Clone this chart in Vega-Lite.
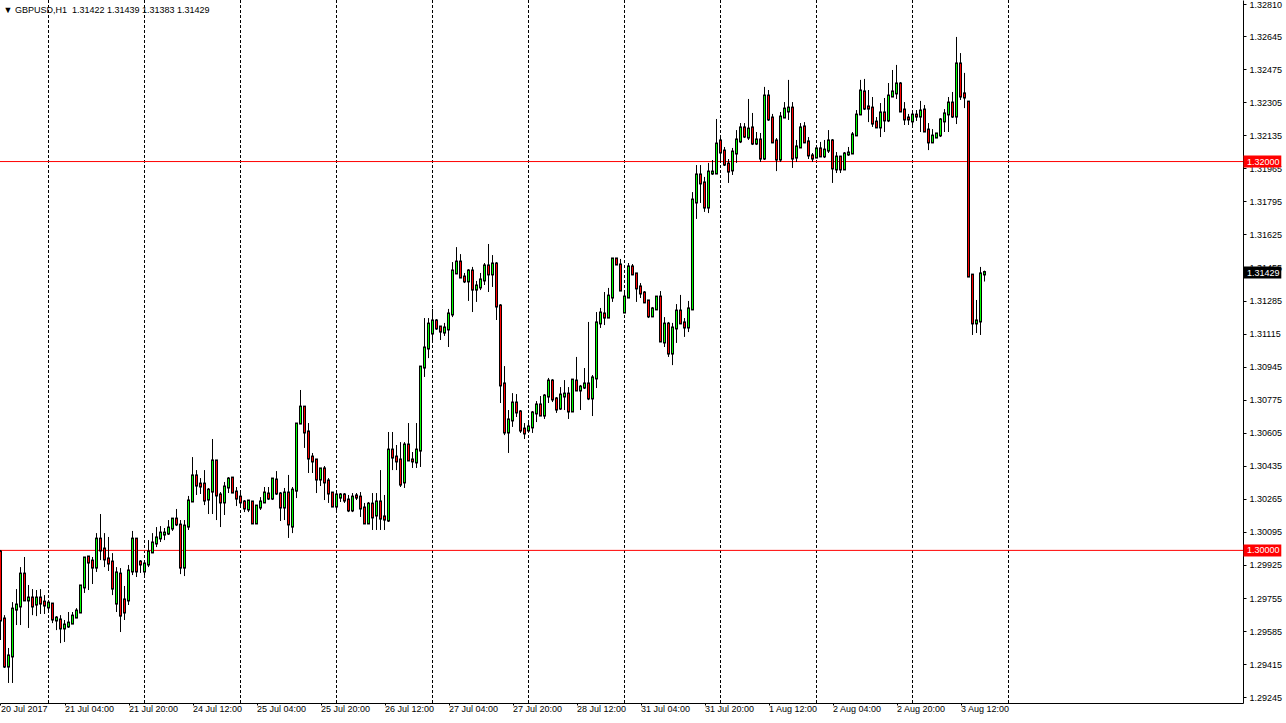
{
  "$schema": "https://vega.github.io/schema/vega-lite/v6.json",
  "width": 1243,
  "height": 703,
  "padding": {"left": 0, "top": 0, "right": 43, "bottom": 20},
  "autosize": {"type": "none"},
  "background": "white",
  "config": {"view": {"stroke": null}, "font": "Liberation Sans",
    "axis": {"grid": false, "labelFontSize": 9, "labelFont": "Liberation Sans", "labelColor": "black", "labelFlush": false, "labelOverlap": false, "tickColor": "black", "domainColor": "black", "title": null}},
  "title": {"text": "▼ GBPUSD,H1 \u00a01.31422 1.31439 1.31383 1.31429", "anchor": "start", "offset": -15, "fontSize": 9, "fontWeight": "normal", "color": "black", "font": "Liberation Sans", "dx": 4},
  "layer": [
    {
      "data": {"values": [{"i": 12}, {"i": 36}, {"i": 60}, {"i": 84}, {"i": 108}, {"i": 132}, {"i": 156}, {"i": 180}, {"i": 204}, {"i": 228}, {"i": 252}]},
      "mark": {"type": "rule", "color": "black", "strokeWidth": 1, "strokeDash": [3, 2]},
      "encoding": {
        "x": {"field": "i", "type": "quantitative", "scale": {"domain": [-0.125, 310.625], "nice": false, "zero": false, "padding": 0},
          "axis": {"values": [0, 16, 32, 48, 64, 80, 96, 112, 128, 144, 160, 176, 192, 208, 224, 240], "tickCount": 100,
            "labelExpr": "['20 Jul 2017','21 Jul 04:00','21 Jul 20:00','24 Jul 12:00','25 Jul 04:00','25 Jul 20:00','26 Jul 12:00','27 Jul 04:00','27 Jul 20:00','28 Jul 12:00','31 Jul 04:00','31 Jul 20:00','1 Aug 12:00','2 Aug 04:00','2 Aug 20:00','3 Aug 12:00'][round(datum.value/16)]",
            "title": null, "labelAlign": "left", "labelPadding": -1, "tickSize": 2, "labelBound": false, "labelOverlap": false, "labelFlush": false}}
      }
    },
    {
      "data": {"values": [{"p": 1.32}, {"p": 1.3}]},
      "mark": {"type": "rule", "color": "#ff0000", "strokeWidth": 1},
      "encoding": {
        "y": {"field": "p", "type": "quantitative", "scale": {"domain": [1.29215, 1.32831], "nice": false, "zero": false, "padding": 0},
          "axis": {"orient": "right", "tickCount": 100, "values": [1.3281, 1.32645, 1.32475, 1.32305, 1.32135, 1.31965, 1.31795, 1.31625, 1.31455, 1.31285, 1.31115, 1.30945, 1.30775, 1.30605, 1.30435, 1.30265, 1.30095, 1.29925, 1.29755, 1.29585, 1.29415, 1.29245],
            "format": ".5f", "title": null, "labelPadding": 3, "tickSize": 3, "labelOverlap": false, "labelFlush": false, "labelBound": false}}
      }
    },
    {
      "data": {"values": [
{"i":0,"o":1.29992,"h":1.30002,"l":1.29539,"c":1.29642},
{"i":1,"o":1.29647,"h":1.29667,"l":1.29395,"c":1.29405},
{"i":2,"o":1.29405,"h":1.29498,"l":1.29318,"c":1.29457},
{"i":3,"o":1.29457,"h":1.29734,"l":1.29318,"c":1.29698},
{"i":4,"o":1.29698,"h":1.29801,"l":1.29616,"c":1.29719},
{"i":5,"o":1.29714,"h":1.29914,"l":1.29616,"c":1.29878},
{"i":6,"o":1.29878,"h":1.29966,"l":1.29745,"c":1.29745},
{"i":7,"o":1.29745,"h":1.29822,"l":1.29601,"c":1.29755},
{"i":8,"o":1.29755,"h":1.29801,"l":1.29667,"c":1.29714},
{"i":9,"o":1.29724,"h":1.29796,"l":1.29662,"c":1.29755},
{"i":10,"o":1.29755,"h":1.29801,"l":1.29673,"c":1.29729},
{"i":11,"o":1.29734,"h":1.2977,"l":1.29673,"c":1.29719},
{"i":12,"o":1.29709,"h":1.29745,"l":1.29683,"c":1.29729},
{"i":13,"o":1.29724,"h":1.29724,"l":1.29626,"c":1.29647},
{"i":14,"o":1.29642,"h":1.29662,"l":1.2959,"c":1.29652},
{"i":15,"o":1.29642,"h":1.29667,"l":1.29523,"c":1.29601},
{"i":16,"o":1.29601,"h":1.29642,"l":1.29529,"c":1.29616},
{"i":17,"o":1.29611,"h":1.29683,"l":1.29601,"c":1.29626},
{"i":18,"o":1.29626,"h":1.29683,"l":1.29626,"c":1.29662},
{"i":19,"o":1.29657,"h":1.29703,"l":1.29652,"c":1.29688},
{"i":20,"o":1.29683,"h":1.29817,"l":1.29683,"c":1.29817},
{"i":21,"o":1.29812,"h":1.29961,"l":1.29781,"c":1.29961},
{"i":22,"o":1.29966,"h":1.29966,"l":1.29796,"c":1.2994},
{"i":23,"o":1.29945,"h":1.29966,"l":1.29827,"c":1.29914},
{"i":24,"o":1.29914,"h":1.30089,"l":1.29889,"c":1.30058},
{"i":25,"o":1.30058,"h":1.30187,"l":1.2995,"c":1.30002},
{"i":26,"o":1.30007,"h":1.30089,"l":1.29914,"c":1.29956},
{"i":27,"o":1.29956,"h":1.30069,"l":1.29894,"c":1.29935},
{"i":28,"o":1.2994,"h":1.29986,"l":1.2977,"c":1.29806},
{"i":29,"o":1.29729,"h":1.29914,"l":1.29683,"c":1.29884},
{"i":30,"o":1.29878,"h":1.29909,"l":1.2958,"c":1.29667},
{"i":31,"o":1.29745,"h":1.29817,"l":1.29642,"c":1.29683},
{"i":32,"o":1.29745,"h":1.29925,"l":1.29719,"c":1.29894},
{"i":33,"o":1.29894,"h":1.301,"l":1.29873,"c":1.30058},
{"i":34,"o":1.30058,"h":1.30058,"l":1.29863,"c":1.29894},
{"i":35,"o":1.2994,"h":1.2995,"l":1.29884,"c":1.2993},
{"i":36,"o":1.29894,"h":1.2995,"l":1.29873,"c":1.2993},
{"i":37,"o":1.2993,"h":1.30053,"l":1.29914,"c":1.29992},
{"i":38,"o":1.29992,"h":1.30089,"l":1.29986,"c":1.30038},
{"i":39,"o":1.30038,"h":1.3012,"l":1.30017,"c":1.30064},
{"i":40,"o":1.30064,"h":1.30125,"l":1.30043,"c":1.30089},
{"i":41,"o":1.30084,"h":1.30115,"l":1.30053,"c":1.30089},
{"i":42,"o":1.30089,"h":1.30156,"l":1.30079,"c":1.30115},
{"i":43,"o":1.30115,"h":1.30166,"l":1.301,"c":1.30161},
{"i":44,"o":1.30161,"h":1.30213,"l":1.30125,"c":1.30136},
{"i":45,"o":1.3013,"h":1.30156,"l":1.29878,"c":1.29914},
{"i":46,"o":1.29914,"h":1.30156,"l":1.29868,"c":1.30125},
{"i":47,"o":1.30125,"h":1.3028,"l":1.30105,"c":1.30254},
{"i":48,"o":1.30254,"h":1.3048,"l":1.30249,"c":1.30383},
{"i":49,"o":1.30383,"h":1.30413,"l":1.30285,"c":1.30336},
{"i":50,"o":1.30341,"h":1.30372,"l":1.3029,"c":1.30331},
{"i":51,"o":1.30341,"h":1.30413,"l":1.30233,"c":1.30259},
{"i":52,"o":1.30264,"h":1.30321,"l":1.30187,"c":1.3031},
{"i":53,"o":1.30305,"h":1.30573,"l":1.30187,"c":1.3046},
{"i":54,"o":1.3046,"h":1.30465,"l":1.30156,"c":1.30285},
{"i":55,"o":1.30285,"h":1.303,"l":1.3012,"c":1.30249},
{"i":56,"o":1.30249,"h":1.30352,"l":1.30182,"c":1.30326},
{"i":57,"o":1.30326,"h":1.30377,"l":1.30295,"c":1.30367},
{"i":58,"o":1.30372,"h":1.30377,"l":1.30295,"c":1.303},
{"i":59,"o":1.303,"h":1.30326,"l":1.30228,"c":1.30269},
{"i":60,"o":1.30274,"h":1.30295,"l":1.30218,"c":1.30249},
{"i":61,"o":1.30249,"h":1.30259,"l":1.30197,"c":1.30218},
{"i":62,"o":1.30213,"h":1.30259,"l":1.30197,"c":1.30254},
{"i":63,"o":1.30249,"h":1.30254,"l":1.30136,"c":1.30141},
{"i":64,"o":1.30141,"h":1.30233,"l":1.30136,"c":1.30228},
{"i":65,"o":1.30223,"h":1.30274,"l":1.30208,"c":1.30249},
{"i":66,"o":1.30249,"h":1.30326,"l":1.30244,"c":1.30295},
{"i":67,"o":1.3029,"h":1.30326,"l":1.30259,"c":1.30269},
{"i":68,"o":1.30269,"h":1.30372,"l":1.30259,"c":1.30367},
{"i":69,"o":1.30362,"h":1.30408,"l":1.30285,"c":1.30295},
{"i":70,"o":1.3029,"h":1.303,"l":1.30151,"c":1.30223},
{"i":71,"o":1.30223,"h":1.30321,"l":1.30156,"c":1.30295},
{"i":72,"o":1.30295,"h":1.30388,"l":1.30064,"c":1.30136},
{"i":73,"o":1.30125,"h":1.30326,"l":1.30089,"c":1.3031},
{"i":74,"o":1.3031,"h":1.30655,"l":1.30269,"c":1.3065},
{"i":75,"o":1.30655,"h":1.30825,"l":1.30655,"c":1.30737},
{"i":76,"o":1.30737,"h":1.30737,"l":1.30527,"c":1.30609},
{"i":77,"o":1.30609,"h":1.30655,"l":1.30398,"c":1.30475},
{"i":78,"o":1.3048,"h":1.30501,"l":1.30398,"c":1.3046},
{"i":79,"o":1.30465,"h":1.30465,"l":1.30295,"c":1.30367},
{"i":80,"o":1.30367,"h":1.30419,"l":1.30331,"c":1.30419},
{"i":81,"o":1.30419,"h":1.30434,"l":1.30259,"c":1.30352},
{"i":82,"o":1.30357,"h":1.30372,"l":1.30244,"c":1.30295},
{"i":83,"o":1.30295,"h":1.303,"l":1.30228,"c":1.30228},
{"i":84,"o":1.30228,"h":1.303,"l":1.30208,"c":1.30285},
{"i":85,"o":1.30274,"h":1.30295,"l":1.30249,"c":1.30285},
{"i":86,"o":1.30285,"h":1.30295,"l":1.30244,"c":1.30259},
{"i":87,"o":1.30259,"h":1.30285,"l":1.30197,"c":1.30208},
{"i":88,"o":1.30208,"h":1.30295,"l":1.30197,"c":1.30274},
{"i":89,"o":1.3028,"h":1.30295,"l":1.30259,"c":1.30274},
{"i":90,"o":1.30274,"h":1.303,"l":1.30172,"c":1.30218},
{"i":91,"o":1.30218,"h":1.30244,"l":1.30141,"c":1.30141},
{"i":92,"o":1.30141,"h":1.30249,"l":1.30136,"c":1.30238},
{"i":93,"o":1.30238,"h":1.30295,"l":1.30105,"c":1.30172},
{"i":94,"o":1.30182,"h":1.30295,"l":1.30105,"c":1.30249},
{"i":95,"o":1.30249,"h":1.30413,"l":1.30105,"c":1.30166},
{"i":96,"o":1.30172,"h":1.30285,"l":1.30105,"c":1.30161},
{"i":97,"o":1.30156,"h":1.30609,"l":1.30146,"c":1.30516},
{"i":98,"o":1.30516,"h":1.30609,"l":1.30413,"c":1.3048},
{"i":99,"o":1.3048,"h":1.30542,"l":1.30413,"c":1.3046},
{"i":100,"o":1.30465,"h":1.30557,"l":1.30326,"c":1.30341},
{"i":101,"o":1.30352,"h":1.30557,"l":1.30321,"c":1.30542},
{"i":102,"o":1.30542,"h":1.30655,"l":1.30465,"c":1.30465},
{"i":103,"o":1.30465,"h":1.30506,"l":1.30424,"c":1.3046},
{"i":104,"o":1.30455,"h":1.30655,"l":1.30424,"c":1.30516},
{"i":105,"o":1.30516,"h":1.30943,"l":1.30429,"c":1.30943},
{"i":106,"o":1.30943,"h":1.31195,"l":1.30892,"c":1.31041},
{"i":107,"o":1.31041,"h":1.31195,"l":1.30989,"c":1.31164},
{"i":108,"o":1.31118,"h":1.31242,"l":1.31072,"c":1.3118},
{"i":109,"o":1.3118,"h":1.3119,"l":1.31134,"c":1.31144},
{"i":110,"o":1.31149,"h":1.31154,"l":1.31082,"c":1.31128},
{"i":111,"o":1.31123,"h":1.3117,"l":1.31103,"c":1.31144},
{"i":112,"o":1.31139,"h":1.31242,"l":1.31046,"c":1.31216},
{"i":113,"o":1.31216,"h":1.31483,"l":1.312,"c":1.31437},
{"i":114,"o":1.31427,"h":1.3156,"l":1.31427,"c":1.31483},
{"i":115,"o":1.31483,"h":1.31524,"l":1.31406,"c":1.31406},
{"i":116,"o":1.31406,"h":1.31427,"l":1.31375,"c":1.31386},
{"i":117,"o":1.31386,"h":1.31447,"l":1.31283,"c":1.31437},
{"i":118,"o":1.31437,"h":1.31458,"l":1.31226,"c":1.31344},
{"i":119,"o":1.31344,"h":1.31386,"l":1.31278,"c":1.3136},
{"i":120,"o":1.31355,"h":1.31427,"l":1.31339,"c":1.31391},
{"i":121,"o":1.31391,"h":1.31478,"l":1.31365,"c":1.31463},
{"i":122,"o":1.31463,"h":1.31576,"l":1.31329,"c":1.31422},
{"i":123,"o":1.31422,"h":1.31519,"l":1.31355,"c":1.31473},
{"i":124,"o":1.31473,"h":1.31483,"l":1.31185,"c":1.31257},
{"i":125,"o":1.31257,"h":1.31267,"l":1.30758,"c":1.30851},
{"i":126,"o":1.30856,"h":1.30948,"l":1.30593,"c":1.30609},
{"i":127,"o":1.30609,"h":1.30722,"l":1.30501,"c":1.30671},
{"i":128,"o":1.30671,"h":1.30809,"l":1.30635,"c":1.30758},
{"i":129,"o":1.30758,"h":1.30804,"l":1.30686,"c":1.30712},
{"i":130,"o":1.30712,"h":1.30722,"l":1.30604,"c":1.30619},
{"i":131,"o":1.30624,"h":1.30655,"l":1.30573,"c":1.30604},
{"i":132,"o":1.30619,"h":1.30655,"l":1.30609,"c":1.30635},
{"i":133,"o":1.30635,"h":1.30717,"l":1.30604,"c":1.30707},
{"i":134,"o":1.30707,"h":1.30768,"l":1.3066,"c":1.30748},
{"i":135,"o":1.30748,"h":1.30794,"l":1.30691,"c":1.30696},
{"i":136,"o":1.30696,"h":1.30804,"l":1.30676,"c":1.30794},
{"i":137,"o":1.30794,"h":1.30887,"l":1.30758,"c":1.30871},
{"i":138,"o":1.30871,"h":1.30881,"l":1.30763,"c":1.30779},
{"i":139,"o":1.30779,"h":1.30789,"l":1.30707,"c":1.30727},
{"i":140,"o":1.30732,"h":1.3084,"l":1.30722,"c":1.30799},
{"i":141,"o":1.30794,"h":1.30876,"l":1.30722,"c":1.30804},
{"i":142,"o":1.30804,"h":1.3084,"l":1.30676,"c":1.30717},
{"i":143,"o":1.30717,"h":1.30881,"l":1.30712,"c":1.30876},
{"i":144,"o":1.30871,"h":1.30995,"l":1.3082,"c":1.30825},
{"i":145,"o":1.30825,"h":1.30851,"l":1.30722,"c":1.3084},
{"i":146,"o":1.3084,"h":1.30938,"l":1.3083,"c":1.30856},
{"i":147,"o":1.30856,"h":1.31175,"l":1.30773,"c":1.30784},
{"i":148,"o":1.30784,"h":1.30902,"l":1.30691,"c":1.30887},
{"i":149,"o":1.30887,"h":1.31226,"l":1.30835,"c":1.3117},
{"i":150,"o":1.3117,"h":1.31247,"l":1.31144,"c":1.31221},
{"i":151,"o":1.31216,"h":1.31329,"l":1.31159,"c":1.312},
{"i":152,"o":1.312,"h":1.3135,"l":1.31195,"c":1.31308},
{"i":153,"o":1.31303,"h":1.31504,"l":1.31278,"c":1.31499},
{"i":154,"o":1.31499,"h":1.31504,"l":1.31468,"c":1.31473},
{"i":155,"o":1.31468,"h":1.31499,"l":1.31339,"c":1.31339},
{"i":156,"o":1.31226,"h":1.31334,"l":1.31221,"c":1.31303},
{"i":157,"o":1.31303,"h":1.31478,"l":1.31303,"c":1.31458},
{"i":158,"o":1.31458,"h":1.31473,"l":1.31416,"c":1.31422},
{"i":159,"o":1.31422,"h":1.31427,"l":1.31278,"c":1.3135},
{"i":160,"o":1.31355,"h":1.31375,"l":1.31298,"c":1.31324},
{"i":161,"o":1.31324,"h":1.31334,"l":1.31272,"c":1.31278},
{"i":162,"o":1.31283,"h":1.31288,"l":1.31195,"c":1.31206},
{"i":163,"o":1.31206,"h":1.31252,"l":1.312,"c":1.31242},
{"i":164,"o":1.31242,"h":1.31308,"l":1.31236,"c":1.31303},
{"i":165,"o":1.31303,"h":1.31334,"l":1.31072,"c":1.31077},
{"i":166,"o":1.31072,"h":1.312,"l":1.31046,"c":1.31164},
{"i":167,"o":1.31164,"h":1.31175,"l":1.30995,"c":1.31015},
{"i":168,"o":1.31015,"h":1.3117,"l":1.30953,"c":1.31144},
{"i":169,"o":1.31144,"h":1.31267,"l":1.31067,"c":1.31231},
{"i":170,"o":1.31231,"h":1.31314,"l":1.31164,"c":1.3117},
{"i":171,"o":1.3117,"h":1.31195,"l":1.31098,"c":1.31149},
{"i":172,"o":1.31149,"h":1.31283,"l":1.31123,"c":1.31242},
{"i":173,"o":1.31242,"h":1.31843,"l":1.31236,"c":1.31802},
{"i":174,"o":1.31792,"h":1.31982,"l":1.31705,"c":1.31931},
{"i":175,"o":1.31931,"h":1.31982,"l":1.31787,"c":1.3189},
{"i":176,"o":1.3189,"h":1.31921,"l":1.31741,"c":1.31766},
{"i":177,"o":1.31766,"h":1.31993,"l":1.31735,"c":1.31946},
{"i":178,"o":1.31941,"h":1.32008,"l":1.31931,"c":1.31946},
{"i":179,"o":1.31941,"h":1.32219,"l":1.31941,"c":1.3209},
{"i":180,"o":1.32106,"h":1.32137,"l":1.31993,"c":1.32049},
{"i":181,"o":1.32054,"h":1.32075,"l":1.31977,"c":1.31987},
{"i":182,"o":1.31987,"h":1.32013,"l":1.3189,"c":1.31951},
{"i":183,"o":1.31957,"h":1.3207,"l":1.31931,"c":1.32049},
{"i":184,"o":1.32044,"h":1.32162,"l":1.31993,"c":1.32111},
{"i":185,"o":1.32106,"h":1.32198,"l":1.32095,"c":1.32173},
{"i":186,"o":1.32173,"h":1.32198,"l":1.32121,"c":1.32131},
{"i":187,"o":1.32126,"h":1.32322,"l":1.32111,"c":1.32167},
{"i":188,"o":1.32173,"h":1.3225,"l":1.32085,"c":1.32095},
{"i":189,"o":1.32095,"h":1.32152,"l":1.32085,"c":1.32111},
{"i":190,"o":1.32111,"h":1.32147,"l":1.31998,"c":1.32018},
{"i":191,"o":1.32018,"h":1.32384,"l":1.32008,"c":1.32337},
{"i":192,"o":1.32337,"h":1.32368,"l":1.32209,"c":1.32219},
{"i":193,"o":1.32224,"h":1.32245,"l":1.32095,"c":1.32101},
{"i":194,"o":1.32106,"h":1.32121,"l":1.31951,"c":1.32013},
{"i":195,"o":1.32013,"h":1.32255,"l":1.31998,"c":1.32229},
{"i":196,"o":1.32229,"h":1.32306,"l":1.32224,"c":1.3227},
{"i":197,"o":1.3226,"h":1.3242,"l":1.32214,"c":1.32275},
{"i":198,"o":1.32275,"h":1.32306,"l":1.31967,"c":1.32018},
{"i":199,"o":1.32023,"h":1.32111,"l":1.31998,"c":1.32075},
{"i":200,"o":1.32075,"h":1.32198,"l":1.32075,"c":1.32173},
{"i":201,"o":1.32178,"h":1.32203,"l":1.32095,"c":1.32101},
{"i":202,"o":1.32101,"h":1.32126,"l":1.32013,"c":1.32034},
{"i":203,"o":1.32029,"h":1.32044,"l":1.31998,"c":1.32018},
{"i":204,"o":1.32023,"h":1.32085,"l":1.32018,"c":1.32065},
{"i":205,"o":1.32065,"h":1.32101,"l":1.32023,"c":1.32029},
{"i":206,"o":1.32029,"h":1.32111,"l":1.32018,"c":1.32059},
{"i":207,"o":1.32059,"h":1.32162,"l":1.32044,"c":1.32106},
{"i":208,"o":1.32106,"h":1.32116,"l":1.3189,"c":1.31967},
{"i":209,"o":1.31962,"h":1.32049,"l":1.31941,"c":1.32023},
{"i":210,"o":1.32023,"h":1.32029,"l":1.31941,"c":1.31962},
{"i":211,"o":1.31962,"h":1.32049,"l":1.31957,"c":1.32039},
{"i":212,"o":1.32039,"h":1.32075,"l":1.32029,"c":1.32044},
{"i":213,"o":1.32044,"h":1.32152,"l":1.32044,"c":1.32137},
{"i":214,"o":1.32137,"h":1.32265,"l":1.32137,"c":1.32239},
{"i":215,"o":1.32245,"h":1.3242,"l":1.32239,"c":1.32363},
{"i":216,"o":1.32358,"h":1.32425,"l":1.32265,"c":1.32275},
{"i":217,"o":1.32281,"h":1.32368,"l":1.32203,"c":1.32275},
{"i":218,"o":1.32275,"h":1.32332,"l":1.32178,"c":1.32198},
{"i":219,"o":1.32203,"h":1.32229,"l":1.32173,"c":1.32178},
{"i":220,"o":1.32178,"h":1.32301,"l":1.32126,"c":1.3225},
{"i":221,"o":1.3225,"h":1.32327,"l":1.32152,"c":1.32214},
{"i":222,"o":1.32214,"h":1.32404,"l":1.32203,"c":1.32337},
{"i":223,"o":1.32337,"h":1.32471,"l":1.32332,"c":1.32358},
{"i":224,"o":1.32353,"h":1.32497,"l":1.32322,"c":1.32399},
{"i":225,"o":1.32399,"h":1.32409,"l":1.3226,"c":1.3226},
{"i":226,"o":1.32265,"h":1.32306,"l":1.32188,"c":1.32219},
{"i":227,"o":1.32224,"h":1.32245,"l":1.32188,"c":1.32219},
{"i":228,"o":1.32209,"h":1.32265,"l":1.32188,"c":1.32239},
{"i":229,"o":1.32239,"h":1.32265,"l":1.32209,"c":1.32234},
{"i":230,"o":1.32234,"h":1.32312,"l":1.32152,"c":1.3226},
{"i":231,"o":1.32265,"h":1.32291,"l":1.32152,"c":1.32157},
{"i":232,"o":1.32162,"h":1.32198,"l":1.32059,"c":1.32101},
{"i":233,"o":1.32101,"h":1.32167,"l":1.32095,"c":1.32131},
{"i":234,"o":1.32126,"h":1.32147,"l":1.32126,"c":1.32142},
{"i":235,"o":1.32137,"h":1.32224,"l":1.32126,"c":1.32214},
{"i":236,"o":1.32209,"h":1.3227,"l":1.32152,"c":1.32245},
{"i":237,"o":1.32245,"h":1.32332,"l":1.32152,"c":1.32301},
{"i":238,"o":1.32301,"h":1.32358,"l":1.32224,"c":1.32234},
{"i":239,"o":1.32234,"h":1.32641,"l":1.32193,"c":1.32502},
{"i":240,"o":1.32502,"h":1.32558,"l":1.32317,"c":1.32337},
{"i":241,"o":1.32348,"h":1.32456,"l":1.32275,"c":1.32332},
{"i":242,"o":1.32306,"h":1.32306,"l":1.31406,"c":1.31411},
{"i":243,"o":1.31416,"h":1.31416,"l":1.31108,"c":1.3117},
{"i":244,"o":1.3117,"h":1.31288,"l":1.31118,"c":1.3118},
{"i":245,"o":1.3118,"h":1.31458,"l":1.31108,"c":1.31422},
{"i":246,"o":1.31422,"h":1.31439,"l":1.31383,"c":1.31429}
      ]},
      "layer": [
        {
          "mark": {"type": "rule", "color": "black", "strokeWidth": 1},
          "encoding": {
            "x": {"field": "i", "type": "quantitative", "scale": {"domain": [-0.125, 310.625], "nice": false, "zero": false, "padding": 0}},
            "y": {"field": "l", "type": "quantitative", "scale": {"domain": [1.29215, 1.32831], "nice": false, "zero": false, "padding": 0}},
            "y2": {"field": "h"}
          }
        },
        {
          "mark": {"type": "rule", "color": "black", "strokeWidth": 3, "strokeCap": "square", "clip": true},
          "encoding": {
            "x": {"field": "i", "type": "quantitative", "scale": {"domain": [-0.125, 310.625], "nice": false, "zero": false, "padding": 0}},
            "y": {"field": "o", "type": "quantitative", "scale": {"domain": [1.29215, 1.32831], "nice": false, "zero": false, "padding": 0}},
            "y2": {"field": "c"}
          }
        },
        {
          "mark": {"type": "rule", "strokeWidth": 1, "strokeCap": "butt"},
          "encoding": {
            "x": {"field": "i", "type": "quantitative", "scale": {"domain": [-0.125, 310.625], "nice": false, "zero": false, "padding": 0}},
            "y": {"field": "o", "type": "quantitative", "scale": {"domain": [1.29215, 1.32831], "nice": false, "zero": false, "padding": 0}},
            "y2": {"field": "c"},
            "color": {"condition": {"test": "datum.c >= datum.o", "value": "#00ff00"}, "value": "#ff0000"}
          }
        }
      ]
    },
    {
      "data": {"values": [{"p": 1.32, "lab": "1.32000", "kind": "level"}, {"p": 1.3, "lab": "1.30000", "kind": "level"}, {"p": 1.31429, "lab": "1.31429", "kind": "bid"}]},
      "layer": [
        {
          "mark": {"type": "bar", "size": 12, "clip": false},
          "encoding": {
            "x": {"datum": 310.75, "type": "quantitative", "scale": {"domain": [-0.125, 310.625], "nice": false, "zero": false, "padding": 0}},
            "x2": {"datum": 320.2},
            "y": {"field": "p", "type": "quantitative", "scale": {"domain": [1.29215, 1.32831], "nice": false, "zero": false, "padding": 0}},
            "color": {"field": "kind", "type": "nominal", "scale": {"domain": ["level", "bid"], "range": ["#ff0000", "#000000"]}, "legend": null}
          }
        },
        {
          "mark": {"type": "text", "align": "left", "baseline": "middle", "fontSize": 9, "font": "Liberation Sans", "color": "white", "clip": false},
          "encoding": {
            "x": {"datum": 311.6, "type": "quantitative", "scale": {"domain": [-0.125, 310.625], "nice": false, "zero": false, "padding": 0}},
            "y": {"field": "p", "type": "quantitative", "scale": {"domain": [1.29215, 1.32831], "nice": false, "zero": false, "padding": 0}},
            "text": {"field": "lab"}
          }
        }
      ]
    }
  ]
}
